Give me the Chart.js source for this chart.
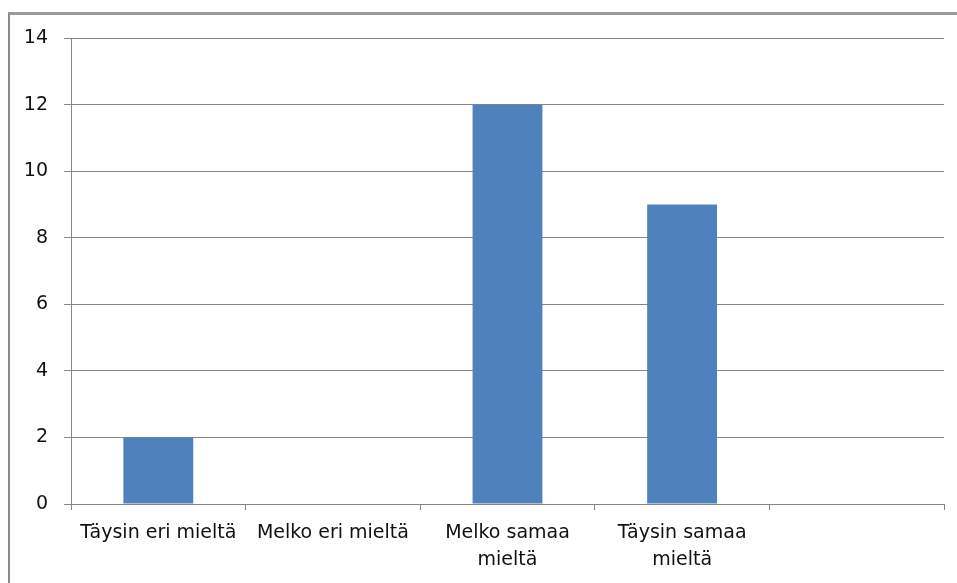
<!DOCTYPE html>
<html>
<head>
<meta charset="utf-8">
<script src="https://cdn.jsdelivr.net/npm/chart.js@4/dist/chart.umd.min.js"></script>
<style>
  html, body { margin: 0; padding: 0; background: #fff; }
  .frame {
    position: absolute; left: 8px; top: 12px;
    width: 949px; height: 571px;
    border-top: 3px solid #9a9a9a; border-left: 2px solid #8a8a8a;
  }
  canvas { display: block; }
</style>
</head>
<body>
<div class="frame"><canvas id="chart" width="947" height="568"></canvas></div>
<script>
// kategoriat ja arvot
const categories = ["Täysin eri mieltä", "Melko eri mieltä", ["Melko samaa", "mieltä"], ["Täysin samaa", "mieltä"], ""];
const values = [2, 0, 12, 9, null];
const yTicks = [0, 2, 4, 6, 8, 10, 12, 14];

const ctx = document.getElementById("chart").getContext("2d");
new Chart(ctx, {
  type: "bar",
  data: {
    labels: categories,
    datasets: [{
      data: values,
      backgroundColor: "#4f81bd",
      borderWidth: 0,
      barPercentage: 0.4,
      categoryPercentage: 1
    }]
  },
  options: {
    responsive: false,
    animation: false,
    layout: { padding: { left: 0, top: 23, right: 13, bottom: 0 } },
    plugins: { legend: { display: false }, tooltip: { enabled: false } },
    scales: {
      x: {
        grid: { display: true, drawOnChartArea: false, drawTicks: true, tickLength: 6, color: "#868686", offset: true },
        border: { color: "#868686" },
        ticks: { color: "#111", padding: 9, font: { family: "DejaVu Sans", size: 19, lineHeight: 1.45 }, maxRotation: 0, autoSkip: false },
        afterFit: s => { s.height = 79; }
      },
      y: {
        min: 0, max: 14,
        afterBuildTicks: s => { s.ticks = yTicks.map(v => ({ value: v })); },
        grid: { color: "#868686", tickLength: 7 },
        border: { color: "#868686" },
        ticks: { color: "#111", padding: 16, font: { family: "DejaVu Sans", size: 19 } },
        afterFit: s => { s.width = 61; s.paddingTop = 0; s.paddingBottom = 0; }
      }
    }
  }
});
</script>
</body>
</html>
